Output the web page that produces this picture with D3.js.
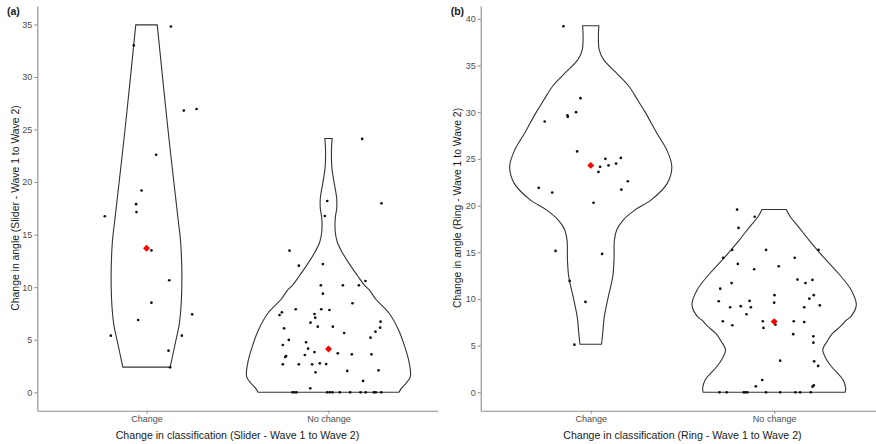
<!DOCTYPE html>
<html>
<head>
<meta charset="utf-8">
<script src="https://cdn.jsdelivr.net/npm/d3@7"></script>
<style>
  body { margin: 0; background: #fff; }
  svg text { font-family: "Liberation Sans", Arial, sans-serif; }
</style>
</head>
<body>
<div id="viz"></div>
<script>
// categories shared by both panels
const categories = ["Change", "No change"];

// y tick labels
const sliderTicks = [0, 5, 10, 15, 20, 25, 30, 35];
const ringTicks = [0, 5, 10, 15, 20, 25, 30, 35, 40];

// jittered points: [x jitter (category units), change in angle]
const sliderChangePts = [
  [0.134, 34.8], [-0.07, 33.0], [0.205, 26.8], [0.275, 26.95], [0.053, 22.6],
  [-0.027, 19.2], [-0.057, 17.9], [-0.055, 17.15], [-0.229, 16.75], [0.027, 13.5],
  [0.125, 10.66], [0.027, 8.53], [0.251, 7.42], [-0.046, 6.88], [-0.196, 5.39],
  [0.194, 5.39], [0.121, 3.96], [0.13, 2.38]
];
const sliderNoChangePts = [
  [0.185, 24.1], [0.291, 17.98], [-0.007, 18.2], [-0.02, 16.77], [-0.214, 13.47],
  [-0.163, 12.05], [-0.031, 12.2], [-0.042, 10.18], [0.079, 10.18], [0.167, 10.18],
  [0.203, 10.59], [-0.031, 9.38], [0.132, 8.47], [-0.18, 7.9], [-0.256, 7.61],
  [-0.269, 7.35], [-0.077, 7.45], [-0.073, 7.1], [-0.04, 7.9], [0.005, 7.83],
  [0.286, 6.72], [-0.099, 6.62], [-0.059, 6.24], [0.024, 6.24], [-0.244, 6.09],
  [0.284, 6.15], [0.258, 5.77], [0.086, 5.64], [0.231, 5.2], [-0.218, 4.98],
  [-0.123, 4.76], [-0.251, 4.5], [-0.112, 4.15], [-0.077, 3.83], [0.051, 3.71],
  [0.128, 3.61], [0.236, 3.61], [-0.13, 3.55], [-0.233, 3.45], [-0.238, 3.36],
  [-0.251, 2.66], [-0.163, 2.66], [-0.09, 2.66], [-0.048, 2.76], [-0.013, 2.69],
  [-0.071, 1.9], [0.103, 2.03], [0.275, 2.09], [0.19, 1.08], [-0.1, 0.38],
  [-0.198, 0], [-0.187, 0], [-0.176, 0], [-0.007, 0], [0.007, 0], [0.022, 0],
  [0.062, 0], [0.119, 0], [0.176, 0], [0.205, 0], [0.249, 0], [0.26, 0], [0.29, 0]
];
const ringChangePts = [
  [-0.149, 39.2], [-0.056, 31.5], [-0.08, 30.0], [-0.127, 29.65], [-0.125, 29.5],
  [-0.251, 29.0], [-0.074, 25.8], [0.08, 25.0], [0.164, 25.1], [0.097, 24.3],
  [0.138, 24.5], [0.051, 24.15], [0.042, 23.6], [0.202, 22.6], [0.167, 21.7],
  [-0.284, 21.9], [-0.21, 21.4], [0.015, 20.3], [-0.192, 15.14], [0.062, 14.82],
  [-0.115, 11.93], [-0.029, 9.68], [-0.089, 5.1]
];
const ringNoChangePts = [
  [-0.202, 19.57], [-0.106, 18.8], [-0.194, 17.6], [-0.229, 15.25], [-0.044, 15.25],
  [0.242, 15.25], [-0.278, 14.4], [0.112, 14.4], [-0.198, 13.75], [0.025, 13.5],
  [-0.109, 13.18], [0.127, 12.07], [0.171, 11.7], [0.209, 12.04], [-0.232, 11.7],
  [-0.294, 11.1], [0.002, 10.4], [0.216, 10.4], [0.192, 10.03], [-0.302, 9.75],
  [-0.134, 9.79], [0, 9.6], [0.249, 9.32], [-0.24, 9.11], [-0.182, 9.22],
  [-0.127, 9.11], [0.164, 9.11], [-0.151, 8.36], [-0.28, 7.61], [-0.062, 7.61],
  [0.107, 7.61], [0.164, 7.53], [-0.228, 7.18], [0.007, 7.25], [-0.058, 6.89],
  [0.104, 6.22], [0.214, 6.0], [0.214, 5.32], [0.033, 3.39], [0.218, 3.32],
  [0.24, 2.82], [-0.065, 1.32], [-0.1, 0.64], [0.216, 0.75], [0.209, 0.6],
  [-0.298, 0], [-0.259, 0], [-0.166, 0], [-0.157, 0], [-0.146, 0], [-0.044, 0],
  [0.033, 0], [0.116, 0], [0.142, 0], [0.2, 0]
];

// group means (red diamonds)
const sliderMeans = [13.7, 4.12];
const ringMeans = [24.3, 7.57];

// violin outlines: [change in angle, half width in category units]
const sliderChangeViolin = [
  [2.4, 0.13], [4.66, 0.158], [6.6, 0.181], [10, 0.194], [14.2, 0.188],
  [16.7, 0.172], [25, 0.118], [34.95, 0.059]
];
const sliderNoChangeViolin = [
  [0, 0.387], [0.38, 0.4], [0.86, 0.426], [1.49, 0.45], [2.76, 0.444],
  [4.34, 0.419], [5.93, 0.385], [7.52, 0.333], [8.85, 0.26], [9.74, 0.224],
  [10.2, 0.197], [10.84, 0.17], [12.1, 0.119], [13.38, 0.073], [14.3, 0.048],
  [15.28, 0.037], [16.55, 0.037], [17.5, 0.045], [18.46, 0.045], [20.04, 0.03],
  [21.3, 0.019], [22.9, 0.016], [24.15, 0.02]
];
const ringChangeViolin = [
  [5.14, 0.059], [6.3, 0.065], [8.1, 0.074], [10.25, 0.096], [12.4, 0.12],
  [14.2, 0.127], [16.3, 0.129], [17.4, 0.142], [18.47, 0.178], [19.54, 0.242],
  [20.6, 0.33], [22.4, 0.418], [24.2, 0.442], [25.97, 0.414], [27.76, 0.36],
  [29.9, 0.3], [31.3, 0.256], [32.75, 0.209], [34.2, 0.14], [35.6, 0.071],
  [36.7, 0.046], [39.25, 0.044]
];
const ringNoChangeViolin = [
  [0, 0.387], [0.43, 0.39], [1.32, 0.376], [2.74, 0.313], [3.6, 0.283],
  [4.53, 0.265], [5.5, 0.29], [6.3, 0.318], [7.03, 0.36], [7.75, 0.395],
  [8.1, 0.418], [9.36, 0.448], [10.96, 0.42], [12.75, 0.35], [14.5, 0.268],
  [16.3, 0.19], [17.75, 0.132], [18.8, 0.088], [19.57, 0.066]
];

const width = 876;
const height = 444;

const svg = d3
  .select("#viz")
  .append("svg")
  .attr("width", width)
  .attr("height", height)
  .style("display", "block");

svg.append("rect").attr("width", width).attr("height", height).attr("fill", "#fff");

/**
 * Draws one violin + jitter panel
 */
function drawPanel(cfg) {
  const x = d3
    .scalePoint()
    .domain(categories)
    .range([cfg.left, cfg.left + cfg.panelWidth])
    .padding(0.6);
  const step = x.step();

  const y = d3.scaleLinear().domain(cfg.yDomain).range([410.7, 6]);

  const g = svg.append("g");

  // violins
  const area = d3
    .area()
    .curve(d3.curveCatmullRom.alpha(0.5))
    .y((d) => y(d[0]));

  cfg.violins.forEach((v, i) => {
    const cx = x(categories[i]);
    g.append("path")
      .datum(v)
      .attr(
        "d",
        area.x0((d) => cx - d[1] * step).x1((d) => cx + d[1] * step)
      )
      .attr("fill", "none")
      .attr("stroke", "#333")
      .attr("stroke-width", 1.1);
  });

  // jittered points
  cfg.points.forEach((pts, i) => {
    const cx = x(categories[i]);
    g.selectAll(null)
      .data(pts)
      .enter()
      .append("circle")
      .attr("cx", (d) => cx + d[0] * step)
      .attr("cy", (d) => y(d[1]))
      .attr("r", 1.35)
      .attr("fill", "#111");
  });

  // means
  g.selectAll(null)
    .data(cfg.means)
    .enter()
    .append("path")
    .attr("d", d3.symbol(d3.symbolSquare, 24))
    .attr(
      "transform",
      (d, i) => `translate(${x(categories[i])},${y(d)}) rotate(45)`
    )
    .attr("fill", "#f00");

  // y axis
  const yAxis = g
    .append("g")
    .attr("transform", `translate(${cfg.left},0)`)
    .call(
      d3.axisLeft(y).tickValues(cfg.ticks).tickSize(3).tickSizeOuter(0).tickPadding(2)
    );

  // x axis
  const xAxis = g
    .append("g")
    .attr("transform", `translate(0,410.7)`)
    .call(d3.axisBottom(x).tickSize(3).tickSizeOuter(0).tickPadding(2));

  [yAxis, xAxis].forEach((ax) => {
    ax.select(".domain").attr("stroke", "#8c8c8c").attr("stroke-width", 1.1);
    ax.selectAll(".tick line").attr("stroke", "#8c8c8c");
    ax.selectAll(".tick text")
      .attr("fill", "#4d4d4d")
      .style("font-size", "9px");
  });

  // axis titles
  g.append("text")
    .attr("x", cfg.left + cfg.panelWidth / 2)
    .attr("y", 438.5)
    .attr("text-anchor", "middle")
    .style("font-size", "10.6px")
    .attr("fill", "#1a1a1a")
    .text(cfg.xTitle);

  g.append("text")
    .attr("transform", `translate(${cfg.yTitleX},208) rotate(-90)`)
    .attr("text-anchor", "middle")
    .style("font-size", "10.4px")
    .attr("fill", "#1a1a1a")
    .text(cfg.yTitle);

  // panel tag
  g.append("text")
    .attr("x", cfg.tagX)
    .attr("y", 15)
    .style("font-size", "10.5px")
    .style("font-weight", "bold")
    .attr("fill", "#1a1a1a")
    .text(cfg.tag);
}

drawPanel({
  left: 37.3,
  panelWidth: 2.2 * 182,
  yDomain: [-1.75, 36.75],
  ticks: sliderTicks,
  violins: [sliderChangeViolin, sliderNoChangeViolin],
  points: [sliderChangePts, sliderNoChangePts],
  means: sliderMeans,
  xTitle: "Change in classification (Slider - Wave 1 to Wave 2)",
  yTitle: "Change in angle (Slider - Wave 1 to Wave 2)",
  yTitleX: 19,
  tag: "(a)",
  tagX: 7
});

drawPanel({
  left: 480.7,
  panelWidth: 2.2 * 183.4,
  yDomain: [-1.97, 41.37],
  ticks: ringTicks,
  violins: [ringChangeViolin, ringNoChangeViolin],
  points: [ringChangePts, ringNoChangePts],
  means: ringMeans,
  xTitle: "Change in classification (Ring - Wave 1 to Wave 2)",
  yTitle: "Change in angle (Ring - Wave 1 to Wave 2)",
  yTitleX: 461,
  tag: "(b)",
  tagX: 450.7
});
</script>
</body>
</html>
